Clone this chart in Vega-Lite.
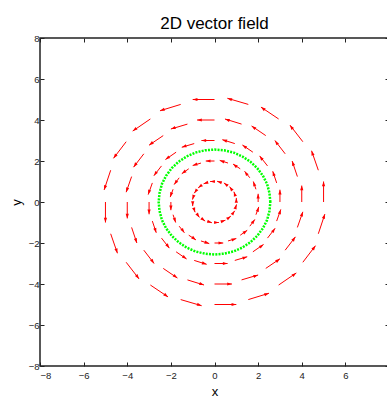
{
  "$schema": "https://vega.github.io/schema/vega-lite/v6.json",
  "autosize": {"type": "none"},
  "padding": {"left": 40, "top": 38, "right": 0, "bottom": 33},
  "width": 349,
  "height": 328,
  "background": "white",
  "title": {"text": "2D vector field", "fontSize": 17, "font": "Liberation Sans, sans-serif", "fontWeight": "normal", "color": "#000", "baseline": "alphabetic", "offset": 0, "dy": 13},
  "config": {
    "view": {"stroke": "#222", "strokeWidth": 1.5},
    "axis": {"grid": false, "domain": false, "labelFont": "Liberation Sans, sans-serif", "labelFontSize": 9.5, "labelColor": "#222", "tickColor": "#222", "tickWidth": 1, "titleFont": "Liberation Sans, sans-serif", "titleFontSize": 13, "titleFontWeight": "normal", "titleColor": "#000"}
  },
  "datasets": {
    "vec": [
      {"x":1,"y":0,"xe":1,"ye":0.2,"h":90},
      {"x":0.95,"y":0.31,"xe":0.89,"ye":0.5,"h":108},
      {"x":0.81,"y":0.59,"xe":0.69,"ye":0.75,"h":126},
      {"x":0.59,"y":0.81,"xe":0.43,"ye":0.93,"h":144},
      {"x":0.31,"y":0.95,"xe":0.12,"ye":1.01,"h":162},
      {"x":0,"y":1,"xe":-0.2,"ye":1,"h":180},
      {"x":-0.31,"y":0.95,"xe":-0.5,"ye":0.89,"h":198},
      {"x":-0.59,"y":0.81,"xe":-0.75,"ye":0.69,"h":216},
      {"x":-0.81,"y":0.59,"xe":-0.93,"ye":0.43,"h":234},
      {"x":-0.95,"y":0.31,"xe":-1.01,"ye":0.12,"h":252},
      {"x":-1,"y":0,"xe":-1,"ye":-0.2,"h":270},
      {"x":-0.95,"y":-0.31,"xe":-0.89,"ye":-0.5,"h":288},
      {"x":-0.81,"y":-0.59,"xe":-0.69,"ye":-0.75,"h":306},
      {"x":-0.59,"y":-0.81,"xe":-0.43,"ye":-0.93,"h":324},
      {"x":-0.31,"y":-0.95,"xe":-0.12,"ye":-1.01,"h":342},
      {"x":0,"y":-1,"xe":0.2,"ye":-1,"h":0},
      {"x":0.31,"y":-0.95,"xe":0.5,"ye":-0.89,"h":18},
      {"x":0.59,"y":-0.81,"xe":0.75,"ye":-0.69,"h":36},
      {"x":0.81,"y":-0.59,"xe":0.93,"ye":-0.43,"h":54},
      {"x":0.95,"y":-0.31,"xe":1.01,"ye":-0.12,"h":72},

      {"x":2,"y":0,"xe":2,"ye":0.4,"h":90},
      {"x":1.9,"y":0.62,"xe":1.78,"ye":1.0,"h":108},
      {"x":1.62,"y":1.18,"xe":1.38,"ye":1.5,"h":126},
      {"x":1.18,"y":1.62,"xe":0.85,"ye":1.85,"h":144},
      {"x":0.62,"y":1.9,"xe":0.24,"ye":2.03,"h":162},
      {"x":0,"y":2,"xe":-0.4,"ye":2,"h":180},
      {"x":-0.62,"y":1.9,"xe":-1.0,"ye":1.78,"h":198},
      {"x":-1.18,"y":1.62,"xe":-1.5,"ye":1.38,"h":216},
      {"x":-1.62,"y":1.18,"xe":-1.85,"ye":0.85,"h":234},
      {"x":-1.9,"y":0.62,"xe":-2.03,"ye":0.24,"h":252},
      {"x":-2,"y":0,"xe":-2,"ye":-0.4,"h":270},
      {"x":-1.9,"y":-0.62,"xe":-1.78,"ye":-1.0,"h":288},
      {"x":-1.62,"y":-1.18,"xe":-1.38,"ye":-1.5,"h":306},
      {"x":-1.18,"y":-1.62,"xe":-0.85,"ye":-1.85,"h":324},
      {"x":-0.62,"y":-1.9,"xe":-0.24,"ye":-2.03,"h":342},
      {"x":0,"y":-2,"xe":0.4,"ye":-2,"h":0},
      {"x":0.62,"y":-1.9,"xe":1.0,"ye":-1.78,"h":18},
      {"x":1.18,"y":-1.62,"xe":1.5,"ye":-1.38,"h":36},
      {"x":1.62,"y":-1.18,"xe":1.85,"ye":-0.85,"h":54},
      {"x":1.9,"y":-0.62,"xe":2.03,"ye":-0.24,"h":72},

      {"x":3,"y":0,"xe":3,"ye":0.6,"h":90},
      {"x":2.85,"y":0.93,"xe":2.67,"ye":1.5,"h":108},
      {"x":2.43,"y":1.76,"xe":2.07,"ye":2.25,"h":126},
      {"x":1.76,"y":2.43,"xe":1.28,"ye":2.78,"h":144},
      {"x":0.93,"y":2.85,"xe":0.36,"ye":3.04,"h":162},
      {"x":0,"y":3,"xe":-0.6,"ye":3,"h":180},
      {"x":-0.93,"y":2.85,"xe":-1.5,"ye":2.67,"h":198},
      {"x":-1.76,"y":2.43,"xe":-2.25,"ye":2.07,"h":216},
      {"x":-2.43,"y":1.76,"xe":-2.78,"ye":1.28,"h":234},
      {"x":-2.85,"y":0.93,"xe":-3.04,"ye":0.36,"h":252},
      {"x":-3,"y":0,"xe":-3,"ye":-0.6,"h":270},
      {"x":-2.85,"y":-0.93,"xe":-2.67,"ye":-1.5,"h":288},
      {"x":-2.43,"y":-1.76,"xe":-2.07,"ye":-2.25,"h":306},
      {"x":-1.76,"y":-2.43,"xe":-1.28,"ye":-2.78,"h":324},
      {"x":-0.93,"y":-2.85,"xe":-0.36,"ye":-3.04,"h":342},
      {"x":0,"y":-3,"xe":0.6,"ye":-3,"h":0},
      {"x":0.93,"y":-2.85,"xe":1.5,"ye":-2.67,"h":18},
      {"x":1.76,"y":-2.43,"xe":2.25,"ye":-2.07,"h":36},
      {"x":2.43,"y":-1.76,"xe":2.78,"ye":-1.28,"h":54},
      {"x":2.85,"y":-0.93,"xe":3.04,"ye":-0.36,"h":72},

      {"x":4,"y":0,"xe":4,"ye":0.8,"h":90},
      {"x":3.8,"y":1.24,"xe":3.56,"ye":2.0,"h":108},
      {"x":3.24,"y":2.35,"xe":2.77,"ye":3.0,"h":126},
      {"x":2.35,"y":3.24,"xe":1.7,"ye":3.71,"h":144},
      {"x":1.24,"y":3.8,"xe":0.48,"ye":4.05,"h":162},
      {"x":0,"y":4,"xe":-0.8,"ye":4,"h":180},
      {"x":-1.24,"y":3.8,"xe":-2.0,"ye":3.56,"h":198},
      {"x":-2.35,"y":3.24,"xe":-3.0,"ye":2.77,"h":216},
      {"x":-3.24,"y":2.35,"xe":-3.71,"ye":1.7,"h":234},
      {"x":-3.8,"y":1.24,"xe":-4.05,"ye":0.48,"h":252},
      {"x":-4,"y":0,"xe":-4,"ye":-0.8,"h":270},
      {"x":-3.8,"y":-1.24,"xe":-3.56,"ye":-2.0,"h":288},
      {"x":-3.24,"y":-2.35,"xe":-2.77,"ye":-3.0,"h":306},
      {"x":-2.35,"y":-3.24,"xe":-1.7,"ye":-3.71,"h":324},
      {"x":-1.24,"y":-3.8,"xe":-0.48,"ye":-4.05,"h":342},
      {"x":0,"y":-4,"xe":0.8,"ye":-4,"h":0},
      {"x":1.24,"y":-3.8,"xe":2.0,"ye":-3.56,"h":18},
      {"x":2.35,"y":-3.24,"xe":3.0,"ye":-2.77,"h":36},
      {"x":3.24,"y":-2.35,"xe":3.71,"ye":-1.7,"h":54},
      {"x":3.8,"y":-1.24,"xe":4.05,"ye":-0.48,"h":72},

      {"x":5,"y":0,"xe":5,"ye":1,"h":90},
      {"x":4.76,"y":1.55,"xe":4.45,"ye":2.5,"h":108},
      {"x":4.05,"y":2.94,"xe":3.46,"ye":3.75,"h":126},
      {"x":2.94,"y":4.05,"xe":2.13,"ye":4.63,"h":144},
      {"x":1.55,"y":4.76,"xe":0.59,"ye":5.06,"h":162},
      {"x":0,"y":5,"xe":-1,"ye":5,"h":180},
      {"x":-1.55,"y":4.76,"xe":-2.5,"ye":4.45,"h":198},
      {"x":-2.94,"y":4.05,"xe":-3.75,"ye":3.46,"h":216},
      {"x":-4.05,"y":2.94,"xe":-4.63,"ye":2.13,"h":234},
      {"x":-4.76,"y":1.55,"xe":-5.06,"ye":0.59,"h":252},
      {"x":-5,"y":0,"xe":-5,"ye":-1,"h":270},
      {"x":-4.76,"y":-1.55,"xe":-4.45,"ye":-2.5,"h":288},
      {"x":-4.05,"y":-2.94,"xe":-3.46,"ye":-3.75,"h":306},
      {"x":-2.94,"y":-4.05,"xe":-2.13,"ye":-4.63,"h":324},
      {"x":-1.55,"y":-4.76,"xe":-0.59,"ye":-5.06,"h":342},
      {"x":0,"y":-5,"xe":1,"ye":-5,"h":0},
      {"x":1.55,"y":-4.76,"xe":2.5,"ye":-4.45,"h":18},
      {"x":2.94,"y":-4.05,"xe":3.75,"ye":-3.46,"h":36},
      {"x":4.05,"y":-2.94,"xe":4.63,"ye":-2.13,"h":54},
      {"x":4.76,"y":-1.55,"xe":5.06,"ye":-0.59,"h":72}
    ],
    "circ": [
      {"i":0,"x":2.56,"y":0},{"i":1,"x":2.52,"y":0.44},{"i":2,"x":2.41,"y":0.88},{"i":3,"x":2.22,"y":1.28},
      {"i":4,"x":1.96,"y":1.65},{"i":5,"x":1.65,"y":1.96},{"i":6,"x":1.28,"y":2.22},{"i":7,"x":0.88,"y":2.41},
      {"i":8,"x":0.44,"y":2.52},{"i":9,"x":0,"y":2.56},{"i":10,"x":-0.44,"y":2.52},{"i":11,"x":-0.88,"y":2.41},
      {"i":12,"x":-1.28,"y":2.22},{"i":13,"x":-1.65,"y":1.96},{"i":14,"x":-1.96,"y":1.65},{"i":15,"x":-2.22,"y":1.28},
      {"i":16,"x":-2.41,"y":0.88},{"i":17,"x":-2.52,"y":0.44},{"i":18,"x":-2.56,"y":0},{"i":19,"x":-2.52,"y":-0.44},
      {"i":20,"x":-2.41,"y":-0.88},{"i":21,"x":-2.22,"y":-1.28},{"i":22,"x":-1.96,"y":-1.65},{"i":23,"x":-1.65,"y":-1.96},
      {"i":24,"x":-1.28,"y":-2.22},{"i":25,"x":-0.88,"y":-2.41},{"i":26,"x":-0.44,"y":-2.52},{"i":27,"x":0,"y":-2.56},
      {"i":28,"x":0.44,"y":-2.52},{"i":29,"x":0.88,"y":-2.41},{"i":30,"x":1.28,"y":-2.22},{"i":31,"x":1.65,"y":-1.96},
      {"i":32,"x":1.96,"y":-1.65},{"i":33,"x":2.22,"y":-1.28},{"i":34,"x":2.41,"y":-0.88},{"i":35,"x":2.52,"y":-0.44},
      {"i":36,"x":2.56,"y":0}
    ]
  },
  "layer": [
    {
      "data": {"name": "vec"},
      "mark": {"type": "rule", "color": "#ff0000", "strokeWidth": 1},
      "encoding": {
        "x": {"field": "x", "type": "quantitative", "scale": {"domain": [-8, 8], "nice": false, "zero": false},
              "axis": {"orient": "bottom", "title": "x", "values": [-8,-6,-4,-2,0,2,4,6], "tickSize": -4, "labelPadding": 8, "titlePadding": 6}},
        "y": {"field": "y", "type": "quantitative", "scale": {"domain": [-8, 8], "nice": false, "zero": false},
              "axis": {"orient": "left", "title": "y", "values": [-8,-6,-4,-2,0,2,4,6,8], "tickSize": -4, "labelPadding": 5, "titlePadding": 5}},
        "x2": {"field": "xe"},
        "y2": {"field": "ye"}
      }
    },
    {
      "data": {"name": "vec"},
      "mark": {"type": "point", "filled": true, "color": "#ff0000", "opacity": 1, "strokeWidth": 0, "shape": "M0,0L-1,-0.34L-1,0.34Z", "size": 90},
      "encoding": {
        "x": {"field": "xe", "type": "quantitative", "axis": {"orient": "top", "title": null, "labels": false, "values": [-8,-6,-4,-2,0,2,4,6,8], "tickSize": -4}},
        "y": {"field": "ye", "type": "quantitative", "axis": {"orient": "right", "title": null, "labels": false, "values": [-8,-6,-4,-2,0,2,4,6,8], "tickSize": -4}},
        "angle": {"field": "h", "type": "quantitative", "scale": {"domain": [0, 360], "range": [360, 0]}, "legend": null}
      }
    },
    {
      "data": {"name": "circ"},
      "mark": {"type": "line", "color": "#00ff00", "strokeWidth": 2.5, "strokeDash": [2, 1.2]},
      "encoding": {
        "x": {"field": "x", "type": "quantitative", "axis": null},
        "y": {"field": "y", "type": "quantitative", "axis": null},
        "order": {"field": "i", "type": "quantitative"}
      }
    }
  ],
  "resolve": {"axis": {"x": "independent", "y": "independent"}}
}
